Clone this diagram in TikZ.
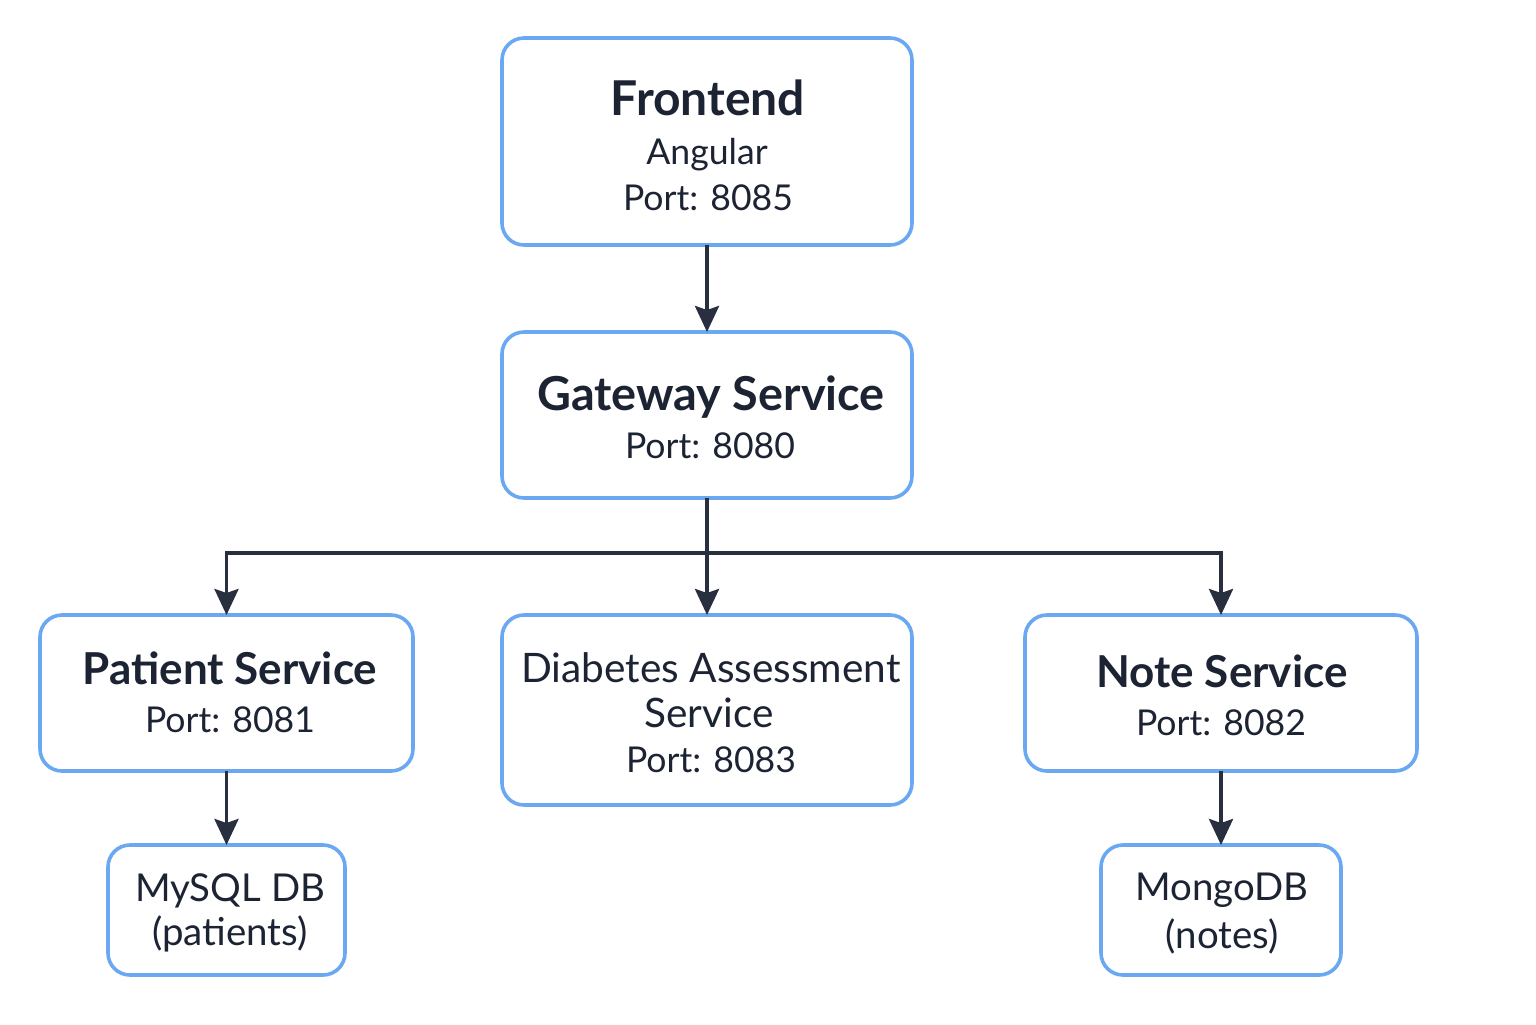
\documentclass[tikz,border=0pt]{standalone}
\usepackage{fontspec}
\setmainfont{Lato}
\usetikzlibrary{arrows.meta}
\definecolor{boxblue}{HTML}{6BA8F2}
\definecolor{ink}{HTML}{1C2333}
\definecolor{arrowc}{HTML}{283040}
\tikzset{
  box/.style={draw=boxblue, line width=1.8pt, rounded corners=11pt, fill=white, inner sep=0pt, outer sep=0pt},
  txt/.style={anchor=base, inner sep=0pt, text=ink},
  arr/.style={draw=arrowc, line width=1.9pt, -{Stealth[length=13pt,width=12pt,inset=2pt]}},
  ttl/.style={txt, font=\fontsize{24}{28}\selectfont\bfseries},
  mid/.style={txt, font=\fontsize{22}{26}\selectfont\bfseries},
  big/.style={txt, font=\fontsize{23.4}{28}\selectfont\bfseries},
  sub/.style={txt, font=\fontsize{17.8}{22}\selectfont},
  dia/.style={txt, font=\fontsize{20.3}{24}\selectfont},
  db/.style={txt, font=\fontsize{19.2}{24}\selectfont}
}
\begin{document}
\begin{tikzpicture}[x=0.5pt,y=-0.5pt]
\useasboundingbox[fill=white] (0,0) rectangle (1536,1024);
% boxes
\node[box, minimum width=205pt, minimum height=103.5pt] (front) at (707,141.5) {};
\node[box, minimum width=205pt, minimum height=83pt] (gate) at (707,415) {};
\node[box, minimum width=186.5pt, minimum height=78pt] (pat) at (226.5,693) {};
\node[box, minimum width=205pt, minimum height=95pt] (diab) at (707,710) {};
\node[box, minimum width=196pt, minimum height=78pt] (note) at (1221,693) {};
\node[box, minimum width=118.5pt, minimum height=65pt] (mysql) at (226.5,910) {};
\node[box, minimum width=120pt, minimum height=65pt] (mongo) at (1221,910) {};
% texts
\node[ttl] (t1) at (708,115) {Frontend};
\node[sub] (t2) at (707,164) {Angular};
\node[sub] (t3) at (708,210) {Port: 8085};
\node[big] (t4) at (711,410) {Gateway Service};
\node[sub] (t5) at (710,458) {Port: 8080};
\node[mid] (t6) at (230,684) {Patient Service};
\node[sub] (t7) at (230,732) {Port: 8081};
\node[dia] (t8) at (711,682) {Diabetes Assessment};
\node[dia] (t9) at (709,727) {Service};
\node[sub] (t10) at (711,772) {Port: 8083};
\node[mid] (t11) at (1222,687) {Note Service};
\node[sub] (t12) at (1221,735) {Port: 8082};
\node[db] (t13) at (230,901) {MySQL DB};
\node[db] (t14) at (230,945) {(patients)};
\node[db] (t15) at (1222,900) {MongoDB};
\node[db] (t16) at (1222,948) {(notes)};
% connectors
\coordinate (bus) at (707,553);
\draw[arr] (front.south) -- (gate.north);
\draw[arr] (gate.south) -- (bus) -| (pat.north);
\draw[arr] (bus) -- (diab.north);
\draw[arr] (bus) -| (note.north);
\draw[arr] (pat.south) -- (mysql.north);
\draw[arr] (note.south) -- (mongo.north);
\end{tikzpicture}
\end{document}
